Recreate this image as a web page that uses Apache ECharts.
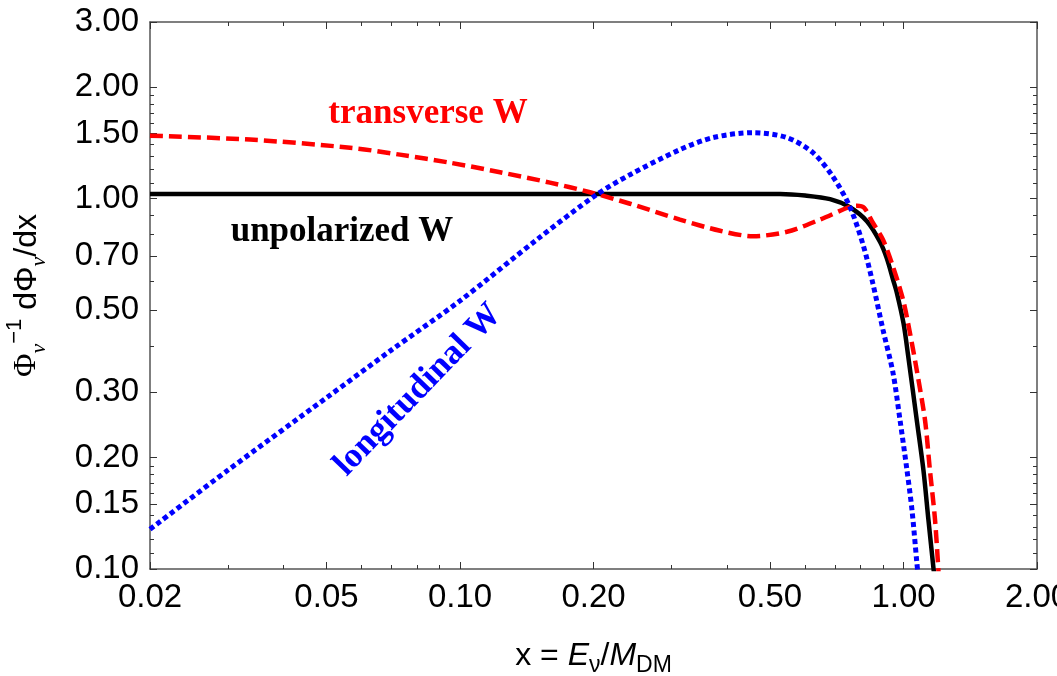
<!DOCTYPE html>
<html>
<head>
<meta charset="utf-8">
<script src="https://cdn.jsdelivr.net/npm/echarts@6/dist/echarts.min.js"></script>
<style>html,body{margin:0;padding:0;background:#fff}#c{width:1057px;height:676px}</style>
</head>
<body>
<div id="c"></div>
<script>
// x ticks
const xMajorTicks = [0.02, 0.05, 0.10, 0.20, 0.50, 1.00, 2.00];
const xMinorTicks = [0.03, 0.04, 0.06, 0.07, 0.08, 0.09, 0.3, 0.4, 0.6, 0.7, 0.8, 0.9];
// y ticks
const yMajorTicks = [0.10, 0.15, 0.20, 0.30, 0.50, 0.70, 1.00, 1.50, 2.00, 3.00];
const yMinorTicks = [0.11, 0.12, 0.13, 0.14, 0.16, 0.17, 0.18, 0.19, 0.4, 0.6, 0.8, 0.9, 1.1, 1.2, 1.3, 1.4, 1.6, 1.7, 1.8, 1.9];

// unpolarized W (black)
const xUnpol = [0.02, 0.05, 0.1, 0.2, 0.3, 0.4, 0.527, 0.6, 0.683, 0.757, 0.827, 0.885, 0.917, 0.947, 0.965, 1.0, 1.025, 1.071, 1.109, 1.138, 1.172];
const yUnpol = [1.03, 1.03, 1.03, 1.03, 1.03, 1.03, 1.03, 1.02, 0.997, 0.948, 0.869, 0.765, 0.69, 0.605, 0.56, 0.461, 0.375, 0.253, 0.185, 0.136, 0.097];

// transverse W (red)
const xTrans = [0.02, 0.0336, 0.0565, 0.0732, 0.0949, 0.1231, 0.1595, 0.1964, 0.2418, 0.3133, 0.386, 0.458, 0.546, 0.648, 0.757, 0.785, 0.815, 0.853, 0.899, 0.947, 0.998, 1.034, 1.071, 1.118, 1.147, 1.178, 1.20];
const yTrans = [1.48, 1.444, 1.373, 1.315, 1.251, 1.179, 1.105, 1.041, 0.969, 0.878, 0.819, 0.792, 0.814, 0.878, 0.951, 0.957, 0.945, 0.861, 0.775, 0.655, 0.533, 0.434, 0.345, 0.2527, 0.185, 0.1356, 0.097];

// longitudinal W (blue)
const xLong = [0.02, 0.03, 0.05, 0.07, 0.1, 0.15, 0.2031, 0.2418, 0.3133, 0.372, 0.458, 0.546, 0.625, 0.693, 0.757, 0.811, 0.853, 0.899, 0.947, 0.982, 1.018, 1.045, 1.072, 1.08];
const yLong = [0.128, 0.185, 0.29, 0.39, 0.53, 0.78, 1.025, 1.161, 1.357, 1.462, 1.508, 1.462, 1.331, 1.147, 0.951, 0.75, 0.59, 0.4426, 0.3386, 0.2527, 0.1852, 0.1444, 0.1038, 0.095];

const pairs = (xs, ys) => xs.map((x, i) => [x, ys[i]]);

const chart = echarts.init(document.getElementById('c'), null, {renderer: 'canvas'});

const lineCol = '#555';
const tickCol = '#333';
const labelFont = {fontFamily: 'Liberation Sans', fontSize: 33, color: '#000'};

function xAx(pos, major, withLabel, showLine) {
  return {
    type: 'log', logBase: 10, min: 0.02, max: 2, position: pos,
    axisLine: {show: showLine, lineStyle: {color: lineCol, width: 1.5}},
    axisTick: {show: true, inside: true, length: major ? 7 : 4, customValues: major ? xMajorTicks : xMinorTicks, lineStyle: {color: tickCol, width: 1}},
    axisLabel: withLabel ? Object.assign({show: true, customValues: xMajorTicks, margin: 12, formatter: v => Number(v).toFixed(2), showMinLabel: true, showMaxLabel: true, hideOverlap: false}, labelFont) : {show: false},
    splitLine: {show: false}, minorTick: {show: false}
  };
}
function yAx(pos, major, withLabel, showLine) {
  return {
    type: 'log', logBase: 10, min: 0.1, max: 3, position: pos,
    axisLine: {show: showLine, lineStyle: {color: lineCol, width: 1.5}},
    axisTick: {show: true, inside: true, length: major ? 7 : 4, customValues: major ? yMajorTicks : yMinorTicks, lineStyle: {color: tickCol, width: 1}},
    axisLabel: withLabel ? Object.assign({show: true, customValues: yMajorTicks, margin: 11, formatter: v => Number(v).toFixed(2), showMinLabel: true, showMaxLabel: true, hideOverlap: false}, labelFont) : {show: false},
    splitLine: {show: false}, minorTick: {show: false}
  };
}

const xMain = xAx('bottom', true, true, true);
xMain.name = '{n|x = }{i|E}{s|ν}{n|/}{i|M}{s|DM}';
xMain.nameLocation = 'middle';
xMain.nameGap = 66;
xMain.nameTextStyle = {
  rich: {
    n: {fontFamily: 'Liberation Sans', fontSize: 32, color: '#000', lineHeight: 42},
    i: {fontFamily: 'Liberation Sans', fontStyle: 'italic', fontSize: 32, color: '#000', lineHeight: 42},
    s: {fontFamily: 'Liberation Sans', fontSize: 23, color: '#000', lineHeight: 28, verticalAlign: 'bottom'}
  }
};

const yMain = yAx('left', true, true, true);
yMain.name = '{f|Φ}{s|ν}{p|−1}{n| dΦ}{s|ν}{n|/dx}';
yMain.nameLocation = 'middle';
yMain.nameRotate = 90;
yMain.nameGap = 100;
yMain.nameTextStyle = {
  rich: {
    f: {fontFamily: 'Liberation Serif', fontSize: 32, color: '#000', lineHeight: 46},
    n: {fontFamily: 'Liberation Sans', fontSize: 32, color: '#000', lineHeight: 46},
    s: {fontFamily: 'Liberation Serif', fontStyle: 'italic', fontSize: 22, color: '#000', lineHeight: 30, verticalAlign: 'bottom'},
    p: {fontFamily: 'Liberation Sans', fontSize: 22, color: '#000', lineHeight: 30, verticalAlign: 'top'}
  }
};

const option = {
  animation: false,
  backgroundColor: '#fff',
  grid: {left: 150, right: 20, top: 22, bottom: 107, containLabel: false, outerBoundsMode: 'none'},
  xAxis: [
    xMain,
    xAx('bottom', false, false, false),
    xAx('top', true, false, true),
    xAx('top', false, false, false)
  ],
  yAxis: [
    yMain,
    yAx('left', false, false, false),
    yAx('right', true, false, true),
    yAx('right', false, false, false)
  ],
  series: [
    {
      name: 'unpolarized W', type: 'line', xAxisIndex: 0, yAxisIndex: 0,
      data: pairs(xUnpol, yUnpol), showSymbol: false, smooth: 0.3, clip: true,
      lineStyle: {color: '#000', width: 4.5}, z: 3
    },
    {
      name: 'transverse W', type: 'line', xAxisIndex: 0, yAxisIndex: 0,
      data: pairs(xTrans, yTrans), showSymbol: false, smooth: 0.3, clip: true,
      lineStyle: {color: '#ff0000', width: 4.5, type: [13, 6], cap: 'butt'}, z: 4
    },
    {
      name: 'longitudinal W', type: 'line', xAxisIndex: 0, yAxisIndex: 0,
      data: pairs(xLong, yLong), showSymbol: false, smooth: 0.3, clip: true,
      lineStyle: {color: '#0000ff', width: 5, type: [5, 3.5], cap: 'butt'}, z: 5
    }
  ],
  graphic: [
    {type: 'text', x: 428, y: 114, z: 10, style: {text: 'transverse W', font: 'bold 35px "Liberation Serif"', fill: '#ff0000', align: 'center', verticalAlign: 'middle'}},
    {type: 'text', x: 342, y: 232, z: 10, style: {text: 'unpolarized W', font: 'bold 35px "Liberation Serif"', fill: '#000', align: 'center', verticalAlign: 'middle'}},
    {type: 'text', x: 418, y: 390, rotation: 46 * Math.PI / 180, z: 10, style: {text: 'longitudinal W', font: 'bold 35px "Liberation Serif"', fill: '#0000ff', align: 'center', verticalAlign: 'middle'}}
  ]
};
chart.setOption(option);
</script>
</body>
</html>
